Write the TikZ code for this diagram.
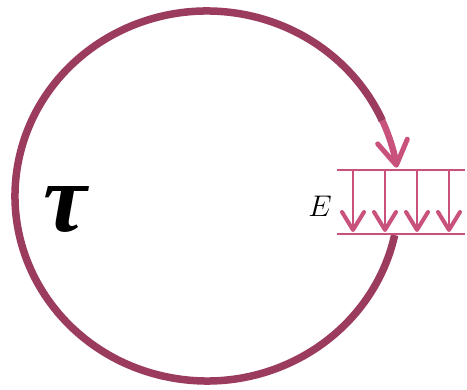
\documentclass[tikz,border=0pt]{standalone}
\usepackage{amsmath, amssymb}
\usepackage{fontspec}
\usepackage{tikz}
\usetikzlibrary{arrows.meta, positioning, calc}
\newfontfamily\taufont{Liberation Serif}
\definecolor{ringred}{HTML}{9B3B5D}
\definecolor{fieldpink}{HTML}{C9527D}

\begin{document}
\begin{tikzpicture}[x=1pt, y=1pt,
        ring/.style={draw=ringred, line width=7.5pt},
        ringtip/.style={draw=fieldpink, line width=6.5pt, -{Straight Barb[length=24pt, width=30pt, line width=5pt, round]}},
        plate/.style={draw=fieldpink, line width=2.5pt},
        fieldarrow/.style={draw=fieldpink, line width=2pt, -{Straight Barb[length=18pt, width=22pt, line width=4pt, round]}}]
        \useasboundingbox (0,0) rectangle (467,390);
        \coordinate (ringc) at (207,194);
        \coordinate (ringbot) at ($(ringc)+(-12.2:192 and 185)$);
        \coordinate (ringmid) at ($(ringc)+(24:192 and 185)$);
        % ring, open where the field plates are
        \draw[ring] (ringbot) arc[start angle=-12.2, end angle=-336, x radius=192, y radius=185];
        \draw[ringtip] (ringmid) arc[start angle=24, end angle=8.8, x radius=192, y radius=185];
        % field plates
        \coordinate (ptl) at (337,220);
        \coordinate (ptr) at (465,220);
        \coordinate (pbl) at (337,156);
        \coordinate (pbr) at (465,156);
        \draw[plate] (ptl) -- (ptr);
        \draw[plate] (pbl) -- (pbr);
        \foreach \x [count=\i] in {353,385,417,449} {
            \coordinate (ft\i) at (\x,220);
            \coordinate (fb\i) at (\x,158);
            \draw[fieldarrow] (ft\i) -- (fb\i);
        }
        \node[font=\Huge, scale=1.2] (efield) at (320,184) {$E$};
        \node[font=\fontsize{98}{98}\taufont\bfseries\itshape] (tau) at (65,181) {τ};
    \end{tikzpicture}
\end{document}
